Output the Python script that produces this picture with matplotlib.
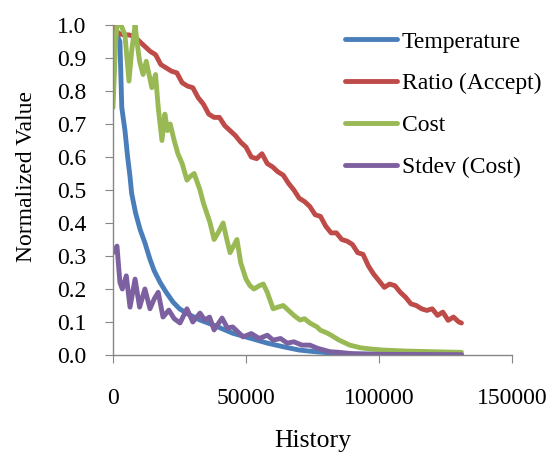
import matplotlib
matplotlib.use("Agg")
import matplotlib.pyplot as plt
from matplotlib.ticker import FormatStrFormatter

# History values (in thousands) and normalized values
temp_x = [0, 1, 2, 2.6, 3.3, 4.5, 5.5, 6.4, 7, 8.5, 10.2, 12, 13.9, 15.5, 17.7, 20, 22.6, 25, 28, 32.7,
          38, 45, 52, 58, 64, 70, 76, 82, 90, 100, 115, 131]
temp_y = [1.0, 0.99, 0.96, 0.95, 0.75, 0.68, 0.60, 0.54, 0.49, 0.43, 0.38, 0.34, 0.29, 0.255, 0.22, 0.19,
          0.16, 0.14, 0.125, 0.106, 0.09, 0.066, 0.05, 0.036, 0.025, 0.015, 0.01, 0.006, 0.003, 0.002,
          0.001, 0.001]

ratio_x = [0, 2, 4, 6, 8, 10, 12, 14, 16, 18, 20, 22, 24, 26, 28, 30, 32, 34, 36, 38, 40, 42, 44, 46,
           48, 50, 52, 54, 56, 58, 60, 62, 64, 66, 68, 70, 72, 74, 76, 78, 80, 82, 84, 86, 88, 90, 92,
           94, 96, 98, 100, 102, 104, 106, 108, 110, 112, 114, 116, 118, 120, 122, 124, 126, 128, 130, 131]
ratio_y = [1.0, 0.975, 0.97, 0.97, 0.965, 0.95, 0.935, 0.92, 0.91, 0.88, 0.87, 0.86, 0.855, 0.825,
           0.815, 0.81, 0.78, 0.76, 0.73, 0.72, 0.72, 0.695, 0.68, 0.665, 0.645, 0.63, 0.60, 0.595,
           0.61, 0.58, 0.57, 0.555, 0.545, 0.52, 0.50, 0.475, 0.465, 0.45, 0.425, 0.42, 0.39, 0.37,
           0.37, 0.35, 0.345, 0.335, 0.31, 0.305, 0.27, 0.245, 0.225, 0.205, 0.215, 0.21, 0.19, 0.175,
           0.155, 0.15, 0.14, 0.135, 0.14, 0.12, 0.13, 0.105, 0.115, 0.10, 0.097]

cost_x = [0, 1, 1.5, 3, 4.5, 6, 7, 8.3, 9, 10, 11.3, 12.5, 14.6, 16, 17, 18.4, 19.5, 20.5, 21.5, 23,
          24.4, 26, 27.8, 28.9, 30.5, 32.7, 34, 36.5, 38, 39.5, 41.4, 42.5, 44, 46.6, 48, 50, 51.5, 53,
          55, 56.5, 58, 60.2, 62, 64, 66, 68, 70.3, 72, 74, 76.7, 78, 80.4, 82, 85, 89, 93, 97, 101.5,
          110, 120, 131]
cost_y = [0.75, 0.95, 1.0, 1.0, 0.97, 0.83, 0.92, 1.0, 0.95, 0.89, 0.85, 0.89, 0.81, 0.85, 0.75, 0.65,
          0.73, 0.68, 0.70, 0.65, 0.61, 0.58, 0.53, 0.54, 0.55, 0.50, 0.46, 0.40, 0.35, 0.37, 0.40, 0.36,
          0.31, 0.35, 0.28, 0.23, 0.21, 0.20, 0.21, 0.215, 0.19, 0.14, 0.145, 0.15, 0.135, 0.12, 0.106,
          0.11, 0.097, 0.085, 0.075, 0.067, 0.06, 0.045, 0.03, 0.022, 0.018, 0.015, 0.012, 0.01, 0.008]

stdev_x = [0, 1.5, 2.6, 3.5, 5, 6.4, 8.3, 10, 12, 13.9, 15.5, 17, 18.8, 21, 23, 25.2, 27.8, 30, 32.7,
           34.5, 36.3, 38, 41, 43, 45, 48.9, 52, 55, 58, 60.2, 63, 65.5, 68, 71, 74, 77, 81.6, 85, 90,
           100, 131]
stdev_y = [0.31, 0.33, 0.22, 0.20, 0.24, 0.145, 0.23, 0.145, 0.20, 0.14, 0.17, 0.19, 0.115, 0.136,
           0.11, 0.097, 0.14, 0.10, 0.127, 0.106, 0.115, 0.076, 0.112, 0.082, 0.085, 0.055, 0.065, 0.05,
           0.06, 0.045, 0.05, 0.036, 0.04, 0.03, 0.03, 0.02, 0.01, 0.008, 0.004, 0.002, 0.001]

series = [
    ("Temperature", temp_x, temp_y, "#4A7EBB"),
    ("Ratio (Accept)", ratio_x, ratio_y, "#BE4B48"),
    ("Cost", cost_x, cost_y, "#98B954"),
    ("Stdev (Cost)", stdev_x, stdev_y, "#7D60A0"),
]

plt.rcParams['font.family'] = ['Liberation Serif', 'DejaVu Serif']

fig = plt.figure(figsize=(5.5, 4.55), dpi=100)
ax = fig.add_axes([113/550, 1-355/455, (512-113)/550, (355-25)/455])

for name, xs, ys, c in series:
    ax.plot([v*1000 for v in xs], ys, color=c, lw=3.5, label=name, solid_joinstyle='round',
            solid_capstyle='round')

ax.set_xlim(0, 150000)
ax.set_ylim(0, 1.0)
ax.set_xticks([0, 50000, 100000, 150000])
ax.set_yticks([i/10 for i in range(11)])
ax.yaxis.set_major_formatter(FormatStrFormatter('%.1f'))
for s in ['top', 'right']:
    ax.spines[s].set_visible(False)
for s in ['left', 'bottom']:
    ax.spines[s].set_color('#868686')
    ax.spines[s].set_linewidth(1.0)
ax.tick_params(axis='both', direction='out', length=6, color='#868686', labelsize=17)
ax.tick_params(axis='y', pad=13)
ax.tick_params(axis='x', pad=18)

ax.set_ylabel("Normalized Value", fontsize=17)
ax.yaxis.set_label_coords(-0.19, 0.54)
ax.set_xlabel("History", fontsize=18.5)
ax.xaxis.set_label_coords(0.5, -0.228)

leg = fig.legend(loc='upper left', bbox_to_anchor=(345/550, 1-31/455), frameon=False,
                 fontsize=17, handlelength=2.2, handletextpad=0.2, labelspacing=0.86,
                 borderpad=0, borderaxespad=0)

fig.savefig("out.png", dpi=100)
